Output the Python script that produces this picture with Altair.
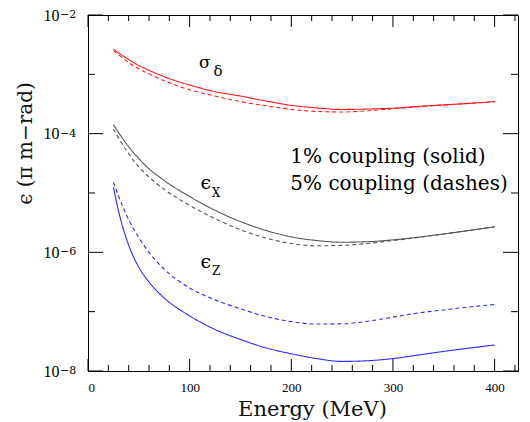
import altair as alt
import pandas as pd

# ---------------- data ----------------
energy = [25, 30, 40, 50, 60, 75, 100, 125, 150, 175, 200, 225, 250, 275, 300, 325, 350, 375, 400]

sigma_1pct = [2.63e-3, 2.29e-3, 1.78e-3, 1.41e-3, 1.17e-3, 9.1e-4, 6.6e-4, 5.1e-4, 4.3e-4, 3.55e-4,
              3.0e-4, 2.72e-4, 2.56e-4, 2.60e-4, 2.69e-4, 2.88e-4, 3.05e-4, 3.24e-4, 3.47e-4]
sigma_5pct = [2.51e-3, 2.14e-3, 1.58e-3, 1.23e-3, 1.02e-3, 7.8e-4, 5.5e-4, 4.3e-4, 3.47e-4, 2.95e-4,
              2.57e-4, 2.37e-4, 2.32e-4, 2.43e-4, 2.63e-4, 2.85e-4, 3.05e-4, 3.24e-4, 3.47e-4]
ex_1pct = [1.41e-4, 1.05e-4, 6.0e-5, 3.8e-5, 2.57e-5, 1.62e-5, 8.7e-6, 5.1e-6, 3.3e-6, 2.34e-6,
           1.82e-6, 1.58e-6, 1.48e-6, 1.51e-6, 1.62e-6, 1.80e-6, 2.04e-6, 2.34e-6, 2.69e-6]
ex_5pct = [1.20e-4, 8.5e-5, 4.6e-5, 2.75e-5, 1.86e-5, 1.15e-5, 6.2e-6, 3.7e-6, 2.4e-6, 1.74e-6,
           1.41e-6, 1.29e-6, 1.31e-6, 1.41e-6, 1.58e-6, 1.78e-6, 2.04e-6, 2.34e-6, 2.69e-6]
ez_1pct = [1.26e-5, 5.0e-6, 1.32e-6, 5.6e-7, 3.16e-7, 1.70e-7, 8.5e-8, 5.0e-8, 3.4e-8, 2.45e-8,
           1.95e-8, 1.62e-8, 1.45e-8, 1.49e-8, 1.62e-8, 1.86e-8, 2.14e-8, 2.43e-8, 2.75e-8]
ez_5pct = [1.51e-5, 8.9e-6, 3.55e-6, 1.78e-6, 1.0e-6, 5.2e-7, 2.51e-7, 1.58e-7, 1.12e-7, 8.3e-8,
           6.8e-8, 6.2e-8, 6.25e-8, 6.9e-8, 8.1e-8, 9.5e-8, 1.07e-7, 1.20e-7, 1.32e-7]

series_names = ["sigma_1", "sigma_5", "ex_1", "ex_5", "ez_1", "ez_5"]
series_values = [sigma_1pct, sigma_5pct, ex_1pct, ex_5pct, ez_1pct, ez_5pct]
series_styles = ["solid", "dash", "solid", "dash", "solid", "dash"]
series_colors = ["#ff1a1a", "#ff1a1a", "#555555", "#555555", "#2a2aff", "#2a2aff"]

x_major_ticks = [0, 100, 200, 300, 400]
x_minor_ticks = [20, 40, 60, 80, 120, 140, 160, 180, 220, 240, 260, 280, 320, 340, 360, 380, 420]
y_major_ticks = [1e-2, 1e-4, 1e-6, 1e-8]
y_minor_ticks = [1e-3, 1e-5, 1e-7]
y_tick_base = "10"
y_tick_exponents = ["−2", "−4", "−6", "−8"]

ann_text = ["σ", "δ", "ϵ", "X", "ϵ", "Z", "1% coupling (solid)", "5% coupling (dashes)"]
ann_E = [115, 128, 116, 126, 116, 126, 199, 199]
ann_v = [1.55e-3, 1.14e-3, 1.47e-5, 1.0e-5, 6.9e-7, 4.84e-7, 4.05e-5, 1.42e-5]
ann_size = [17, 15, 19, 12, 19, 12, 20, 20]
ann_align = ["center", "center", "center", "center", "center", "center", "left", "left"]

# ---------------- tables ----------------
rows = []
for name, vals, sty in zip(series_names, series_values, series_styles):
    for e, v in zip(energy, vals):
        rows.append({"E": e, "v": v, "series": name, "style": sty})
df_lines = pd.DataFrame(rows)

df_xmaj = pd.DataFrame({"E": x_major_ticks})
df_xmin = pd.DataFrame({"E": x_minor_ticks})
df_ymaj = pd.DataFrame({"v": y_major_ticks})
df_ymin = pd.DataFrame({"v": y_minor_ticks})
df_exp = pd.DataFrame({"v": y_major_ticks, "text": y_tick_exponents})
df_ann = pd.DataFrame({"text": ann_text, "E": ann_E, "v": ann_v, "size": ann_size, "align": ann_align})

W, H = 430, 356
xscale = alt.Scale(domain=[0, 423], nice=False, zero=False)
yscale = alt.Scale(type="log", domain=[1e-8, 1e-2], nice=False)

lines = alt.Chart(df_lines).mark_line(strokeWidth=1.1, interpolate="monotone").encode(
    x=alt.X("E:Q", scale=xscale, axis=alt.Axis(
        values=x_major_ticks, format="d", ticks=False, domain=False, grid=False,
        labelFont="Liberation Serif", labelFontSize=13, labelColor="black", labelPadding=10,
        title="Energy (MeV)", titleFont="DejaVu Serif", titleFontSize=21, titleFontWeight="normal",
        titleColor="#111111", titleX=224, titleY=38, titleBaseline="middle")),
    y=alt.Y("v:Q", scale=yscale, axis=alt.Axis(
        values=y_major_ticks, labelExpr=f"'{y_tick_base}'", ticks=False, domain=False, grid=False,
        labelFont="Liberation Serif", labelFontSize=16, labelColor="black", labelPadding=29,
        title="ϵ  (π  m−rad)", titleFont="DejaVu Serif", titleFontSize=20, titleFontWeight="normal",
        titleColor="#111111", titleX=-63, titleY=128, titleAlign="center", titleBaseline="middle")),
    color=alt.Color("series:N", scale=alt.Scale(domain=series_names, range=series_colors), legend=None),
    strokeDash=alt.StrokeDash("style:N", scale=alt.Scale(domain=["solid", "dash"], range=[[1, 0], [4, 3]]), legend=None),
    detail="series:N",
)

def xticks(df, length):
    bottom = alt.Chart(df).mark_rule(color="black", strokeWidth=1).encode(
        x=alt.X("E:Q", scale=xscale), y=alt.value(H), y2=alt.value(H - length))
    top = alt.Chart(df).mark_rule(color="black", strokeWidth=1).encode(
        x=alt.X("E:Q", scale=xscale), y=alt.value(0), y2=alt.value(length))
    return [bottom, top]

def yticks(df, length):
    left = alt.Chart(df).mark_rule(color="black", strokeWidth=1).encode(
        y=alt.Y("v:Q", scale=yscale), x=alt.value(0), x2=alt.value(length))
    right = alt.Chart(df).mark_rule(color="black", strokeWidth=1).encode(
        y=alt.Y("v:Q", scale=yscale), x=alt.value(W), x2=alt.value(W - length))
    return [left, right]

exponents = alt.Chart(df_exp).mark_text(
    font="DejaVu Serif", fontSize=11, color="black", align="left", baseline="top", dy=-6).encode(
    y=alt.Y("v:Q", scale=yscale), x=alt.value(-28), text="text:N")

ann_center = alt.Chart(df_ann[df_ann["align"] == "center"]).mark_text(
    font="DejaVu Serif", color="black", align="center", baseline="middle").encode(
    x=alt.X("E:Q", scale=xscale), y=alt.Y("v:Q", scale=yscale),
    text="text:N", size=alt.Size("size:Q", scale=None, legend=None))
ann_left = alt.Chart(df_ann[df_ann["align"] == "left"]).mark_text(
    font="DejaVu Serif", color="black", align="left", baseline="middle").encode(
    x=alt.X("E:Q", scale=xscale), y=alt.Y("v:Q", scale=yscale),
    text="text:N", size=alt.Size("size:Q", scale=None, legend=None))

chart = alt.layer(
    lines,
    *xticks(df_xmaj, 12), *xticks(df_xmin, 6),
    *yticks(df_ymaj, 15), *yticks(df_ymin, 7),
    exponents, ann_center, ann_left,
).properties(
    width=W, height=H,
    padding={"left": 80, "top": 7, "right": 4, "bottom": 51},
    autosize=alt.AutoSizeParams(type="none"),
    background="white",
).configure_view(stroke="black", strokeWidth=1)

chart.save("out.html", embed_options={"renderer": "svg", "actions": False})
